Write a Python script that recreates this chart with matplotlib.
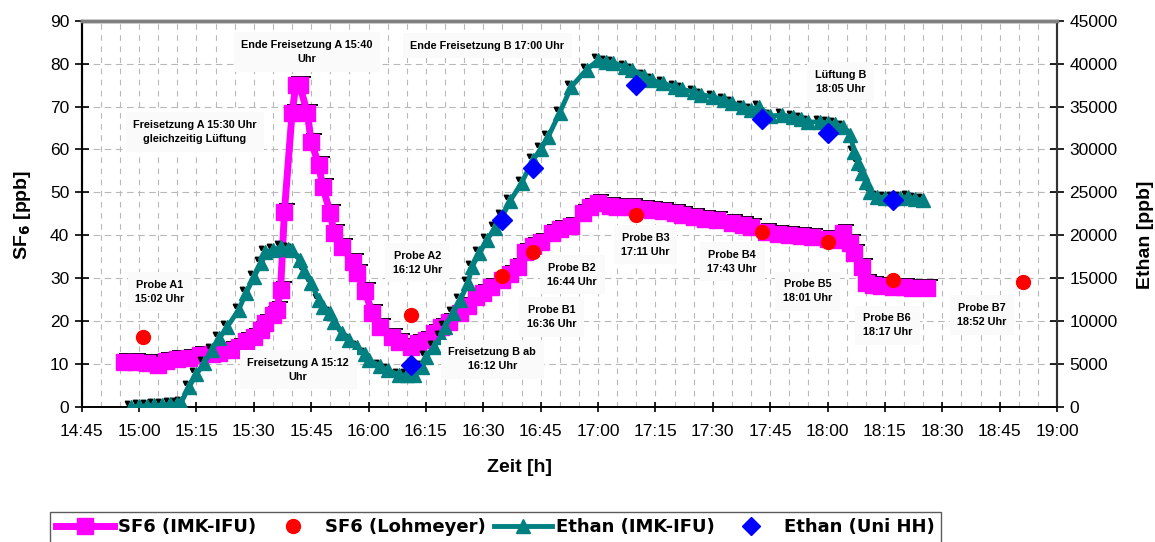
import matplotlib
matplotlib.use("Agg")
import matplotlib.pyplot as plt
import matplotlib.transforms as mtransforms
from matplotlib.lines import Line2D
from matplotlib.ticker import MultipleLocator

plt.rcParams['font.family'] = ['Liberation Sans', 'DejaVu Sans']

# ---------------- data ----------------
sf6_imk_time = ["14:56", "14:59", "15:02", "15:05", "15:07", "15:10", "15:13", "15:16", "15:19",
                "15:21", "15:24", "15:26", "15:28", "15:30", "15:32", "15:33", "15:35", "15:36",
                "15:37", "15:38", "15:40", "15:41", "15:42", "15:44", "15:45", "15:47", "15:48",
                "15:50", "15:51", "15:53", "15:56", "15:57", "15:59", "16:01", "16:03", "16:06",
                "16:08", "16:11", "16:13", "16:15", "16:17", "16:19", "16:21", "16:24", "16:26",
                "16:28", "16:30", "16:32", "16:35", "16:37", "16:39", "16:41", "16:43", "16:45",
                "16:48", "16:50", "16:53", "16:56", "16:58", "17:00", "17:03", "17:05", "17:09",
                "17:12", "17:14", "17:17", "17:20", "17:22", "17:25", "17:28", "17:31", "17:35",
                "17:38", "17:40", "17:44", "17:47", "17:50", "17:53", "17:56", "18:00", "18:02",
                "18:04", "18:06", "18:07", "18:09", "18:10", "18:12", "18:14", "18:17", "18:20",
                "18:22", "18:26"]
sf6_imk_val = [10.6, 10.5, 10.2, 9.8, 10.8, 11.2, 11.5, 12.1, 12.3,
               12.5, 13.2, 14.0, 15.3, 16.4, 18.0, 19.6, 21.5, 22.6,
               27.3, 45.5, 68.5, 75.0, 75.0, 68.5, 61.8, 56.4, 51.3,
               45.2, 40.5, 37.3, 33.8, 31.2, 27.0, 22.0, 18.6, 16.3,
               15.2, 14.0, 14.8, 15.6, 17.2, 18.6, 19.8, 21.9, 23.5,
               25.6, 26.5, 28.0, 29.6, 31.0, 32.6, 36.2, 37.5, 38.4,
               40.6, 41.4, 42.1, 45.2, 46.6, 47.5, 46.8, 46.6, 46.5,
               46.2, 46.0, 45.6, 45.2, 44.8, 44.3, 43.8, 43.6, 42.9,
               42.3, 42.0, 40.8, 40.3, 40.0, 39.8, 39.6, 39.2, 38.8,
               40.6, 38.2, 35.9, 32.6, 28.9, 28.5, 28.2, 28.0, 27.9,
               27.8, 27.7]

sf6_loh_time = ["15:01", "16:11", "16:35", "16:43", "17:10", "17:43", "18:00", "18:17", "18:51"]
sf6_loh_val = [16.3, 21.4, 30.5, 36.1, 44.8, 40.8, 38.5, 29.6, 29.1]

ethan_imk_time = ["14:58", "15:00", "15:02", "15:04", "15:06", "15:08", "15:10", "15:11", "15:13",
                  "15:15", "15:17", "15:19", "15:21", "15:23", "15:26", "15:28", "15:30", "15:32",
                  "15:33", "15:35", "15:37", "15:39", "15:40", "15:42", "15:43", "15:45", "15:47",
                  "15:48", "15:50", "15:51", "15:53", "15:55", "15:57", "15:59", "16:00", "16:03",
                  "16:05", "16:08", "16:10", "16:12", "16:14", "16:15", "16:17", "16:19", "16:20",
                  "16:22", "16:24", "16:26", "16:27", "16:29", "16:31", "16:33", "16:35", "16:37",
                  "16:40", "16:43", "16:45", "16:47", "16:50", "16:53", "16:57", "17:00", "17:02",
                  "17:04", "17:07", "17:09", "17:12", "17:14", "17:17", "17:20", "17:22", "17:25",
                  "17:27", "17:30", "17:33", "17:35", "17:38", "17:40", "17:42", "17:45", "17:48",
                  "17:51", "17:53", "17:55", "17:58", "18:00", "18:02", "18:04", "18:06", "18:07",
                  "18:08", "18:09", "18:10", "18:11", "18:13", "18:15", "18:17", "18:19", "18:21",
                  "18:23", "18:25"]
ethan_imk_val = [0, 100, 150, 200, 200, 300, 300, 500, 2300,
                 3800, 5100, 6600, 8000, 9300, 11300, 13300, 15100, 16800,
                 18000, 18300, 18600, 18400, 18300, 17100, 15800, 14400, 12500,
                 11700, 11000, 9900, 8600, 7800, 7000, 6200, 5500, 4800,
                 4300, 3750, 3700, 3730, 4660, 5800, 7000, 8200, 9300,
                 10900, 12500, 14400, 16300, 17900, 19500, 20800, 22200, 24000,
                 26100, 28800, 30000, 31500, 34300, 37300, 39300, 40400, 40200,
                 40100, 39600, 39300, 38600, 38100, 37700, 37300, 37000, 36700,
                 36400, 36100, 35800, 35400, 35000, 34600, 35000, 33900, 34000,
                 33800, 33500, 33200, 33200, 33100, 33000, 32600, 31700, 29700,
                 28400, 27300, 26200, 25000, 24500, 24400, 24400, 24400, 24500,
                 24200, 24100]

ethan_hh_time = ["16:11", "16:35", "16:43", "17:10", "17:43", "18:00", "18:17"]
ethan_hh_val = [4900, 21800, 27800, 37500, 33600, 31900, 24100]

x_tick_labels = ["14:45", "15:00", "15:15", "15:30", "15:45", "16:00", "16:15", "16:30", "16:45",
                 "17:00", "17:15", "17:30", "17:45", "18:00", "18:15", "18:30", "18:45", "19:00"]
sf6_ticks = [0, 10, 20, 30, 40, 50, 60, 70, 80, 90]
ethan_ticks = [0, 5000, 10000, 15000, 20000, 25000, 30000, 35000, 40000, 45000]

annotations = [
    ("Ende Freisetzung A 15:40\nUhr", 0.231, 0.919),
    ("Freisetzung A 15:30 Uhr\ngleichzeitig Lüftung", 0.116, 0.712),
    ("Ende Freisetzung B 17:00 Uhr", 0.416, 0.935),
    ("Lüftung B\n18:05 Uhr", 0.778, 0.842),
    ("Probe A1\n15:02 Uhr", 0.080, 0.298),
    ("Freisetzung A 15:12\nUhr", 0.222, 0.096),
    ("Probe A2\n16:12 Uhr", 0.344, 0.373),
    ("Freisetzung B ab\n16:12 Uhr", 0.421, 0.124),
    ("Probe B1\n16:36 Uhr", 0.482, 0.233),
    ("Probe B2\n16:44 Uhr", 0.503, 0.342),
    ("Probe B3\n17:11 Uhr", 0.578, 0.420),
    ("Probe B4\n17:43 Uhr", 0.667, 0.376),
    ("Probe B5\n18:01 Uhr", 0.744, 0.300),
    ("Probe B6\n18:17 Uhr", 0.826, 0.212),
    ("Probe B7\n18:52 Uhr", 0.923, 0.238),
]


def tmin(s):
    h, m = s.split(":")
    return int(h) * 60 + int(m)


MAGENTA = "#FF00FF"
TEAL = "#008080"
RED = "#FF0000"
BLUE = "#0000FF"

fig = plt.figure(figsize=(11.55, 5.42), dpi=100)
W, H = 1155.0, 542.0
ax = fig.add_axes([81.7 / W, 1 - 407 / H, (1057 - 81.7) / W, (407 - 20.7) / H])
ax2 = ax.twinx()

xt = [tmin(s) for s in x_tick_labels]
ax.set_xlim(xt[0], xt[-1])
ax.set_ylim(sf6_ticks[0], sf6_ticks[-1])
ax2.set_ylim(ethan_ticks[0], ethan_ticks[-1])

# grid
ax.xaxis.set_minor_locator(MultipleLocator(5))
ax.grid(which="minor", axis="x", color="#B8B8B8", linestyle=(0, (5, 5)), linewidth=0.8)
ax.grid(which="major", axis="x", color="#B8B8B8", linestyle=(0, (5, 5)), linewidth=0.8)
ax.grid(which="major", axis="y", color="#B8B8B8", linestyle=(0, (6, 4)), linewidth=0.8)
ax.set_axisbelow(True)

# SF6 IMK
sx = [tmin(s) for s in sf6_imk_time]
shadow = mtransforms.offset_copy(ax.transData, fig=fig, x=3, y=8, units="dots")
ax.plot(sx, sf6_imk_val, linestyle="none", marker="_", color="black", markersize=11,
        markeredgewidth=1.4, transform=shadow, zorder=2)
ax.plot(sx, sf6_imk_val, color=MAGENTA, linewidth=5, marker="s", markersize=11,
        markerfacecolor=MAGENTA, markeredgecolor=MAGENTA, zorder=3)
# SF6 Lohmeyer
ax.plot([tmin(s) for s in sf6_loh_time], sf6_loh_val, linestyle="none", marker="o",
        markersize=10, color=RED, zorder=4)

# Ethan IMK
ex = [tmin(s) for s in ethan_imk_time]
shadow2 = mtransforms.offset_copy(ax2.transData, fig=fig, x=-4, y=4, units="dots")
ax2.plot(ex, ethan_imk_val, linestyle="none", marker="v", color="black", markersize=3.2,
         transform=shadow2, zorder=2)
ax2.plot(ex, ethan_imk_val, color=TEAL, linewidth=3.5, marker="^", markersize=10,
         markerfacecolor=TEAL, markeredgecolor=TEAL, zorder=3)
# Ethan Uni HH
ax2.plot([tmin(s) for s in ethan_hh_time], ethan_hh_val, linestyle="none", marker="D",
         markersize=10, color=BLUE, zorder=4)

# ticks
ax.set_xticks(xt)
ax.set_xticklabels(x_tick_labels)
ax.set_yticks(sf6_ticks)
ax2.set_yticks(ethan_ticks)
ax.tick_params(axis="x", which="major", direction="inout", length=7, width=1.2, labelsize=12.5, pad=9)
ax.tick_params(axis="x", which="minor", length=0)
ax.tick_params(axis="y", direction="inout", length=10, width=1.2, labelsize=12.5, pad=4)
ax2.tick_params(axis="y", direction="inout", length=10, width=1.2, labelsize=12.5, pad=4)

for a in (ax, ax2):
    a.spines["top"].set_color("#808080")
    a.spines["top"].set_linewidth(2.5)
    a.spines["left"].set_linewidth(1.5)
    a.spines["right"].set_linewidth(1.5)
    a.spines["bottom"].set_linewidth(1.2)
    a.spines["right"].set_color("#333333")

ax.set_xlabel("Zeit [h]", fontsize=14, fontweight="bold")
ax.xaxis.set_label_coords(0.449, -0.135)
ax.set_ylabel("SF$_\\mathbf{6}$ [ppb]", fontsize=14, fontweight="bold")
ax.yaxis.set_label_coords(-0.050, 0.497)
ax2.set_ylabel("Ethan [ppb]", fontsize=14, fontweight="bold")
ax2.yaxis.set_label_coords(1.082, 0.445)

# annotations
for txt, fx, fy in annotations:
    ax2.text(fx, fy, txt, transform=ax2.transAxes, ha="center", va="center",
             fontsize=7.8, fontweight="bold", linespacing=1.5, zorder=10,
             bbox=dict(boxstyle="square,pad=0.7", facecolor="#FAFAFA", edgecolor="none"))

# legend
handles = [
    Line2D([], [], color=MAGENTA, linewidth=5, marker="s", markersize=11),
    Line2D([], [], color=RED, linestyle="none", marker="o", markersize=10),
    Line2D([], [], color=TEAL, linewidth=3.5, marker="^", markersize=10),
    Line2D([], [], color=BLUE, linestyle="none", marker="D", markersize=9),
]
labels = ["SF6 (IMK-IFU)", "SF6 (Lohmeyer)", "Ethan (IMK-IFU)", "Ethan (Uni HH)"]
leg = fig.legend(handles, labels, loc="upper left", bbox_to_anchor=(50 / W, 1 - 512 / H),
                 ncol=4, frameon=True, fancybox=False, edgecolor="#333333",
                 prop={"family": "DejaVu Sans", "weight": "bold", "size": 13},
                 handlelength=3.2, handletextpad=0.2,
                 columnspacing=0.45, borderpad=0.35, borderaxespad=0)
leg.get_frame().set_linewidth(1.0)

fig.savefig("out.png", dpi=100)
